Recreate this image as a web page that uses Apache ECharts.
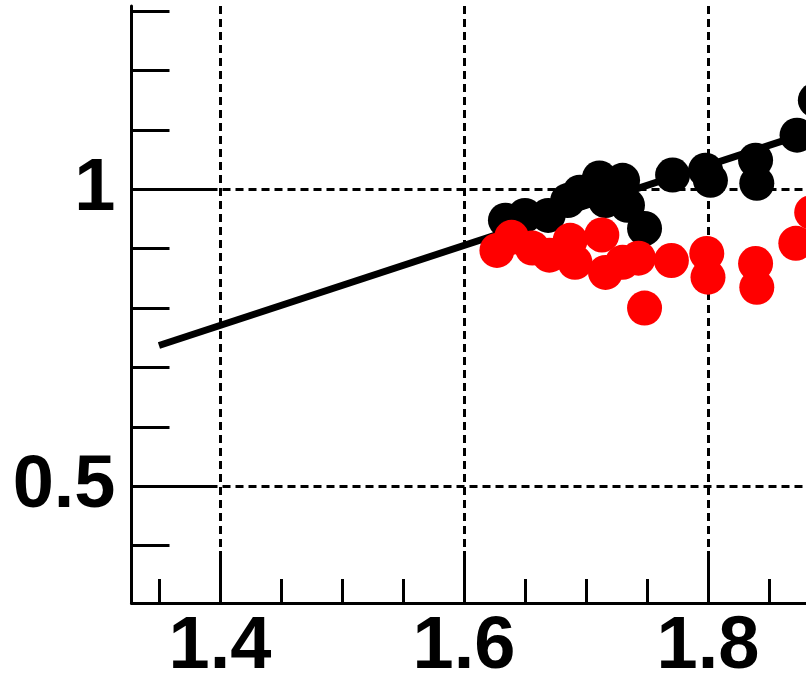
<!DOCTYPE html>
<html>
<head>
<meta charset="utf-8">
<script src="https://cdn.jsdelivr.net/npm/echarts@6/dist/echarts.min.js"></script>
<style>html,body{margin:0;padding:0;background:#fff;}#c{width:806px;height:683px;}</style>
</head>
<body>
<div id="c"></div>
<script>
// Data
var blackX = [1.634, 1.650, 1.669, 1.685, 1.695, 1.711, 1.716, 1.730, 1.734, 1.748, 1.771, 1.798, 1.802, 1.839, 1.840, 1.873, 1.888];
var blackY = [0.948, 0.956, 0.956, 0.981, 0.995, 1.019, 0.981, 1.015, 0.973, 0.934, 1.024, 1.032, 1.015, 1.049, 1.010, 1.091, 1.150];
var redX = [1.627, 1.639, 1.656, 1.670, 1.687, 1.691, 1.713, 1.716, 1.730, 1.743, 1.748, 1.770, 1.799, 1.800, 1.839, 1.840, 1.872, 1.885];
var redY = [0.897, 0.919, 0.901, 0.889, 0.914, 0.877, 0.923, 0.860, 0.877, 0.884, 0.800, 0.880, 0.892, 0.852, 0.875, 0.835, 0.909, 0.961];
var fitX = [1.35, 1.92];
var fitY = [0.737, 1.121];
var xMajorTicks = [1.4, 1.6, 1.8];
var xMinorTicks = [1.35, 1.45, 1.5, 1.55, 1.65, 1.7, 1.75, 1.85];
var yMajorTicks = [0.5, 1];
var yMinorTicks = [0.4, 0.6, 0.7, 0.8, 0.9, 1.1, 1.2, 1.3];

function zip(a, b) { return a.map(function (v, i) { return [v, b[i]]; }); }

var FONT = 'Liberation Sans';
var chart = echarts.init(document.getElementById('c'), null, {renderer: 'canvas'});
var xMin = 1.3275, xMax = 1.9, yMin = 0.3035, yMax = 1.3085;
chart.setOption({
  animation: false,
  backgroundColor: '#fff',
  grid: {left: 131.5, top: 6, width: 698.5, height: 597, containLabel: false, outerBoundsMode: 'none'},
  xAxis: [{
    type: 'value', min: xMin, max: xMax, position: 'bottom',
    axisLine: {show: true, onZero: false, lineStyle: {color: '#000', width: 3}},
    axisTick: {show: true, inside: true, length: 52, customValues: xMajorTicks, lineStyle: {color: '#000', width: 3}},
    axisLabel: {show: true, customValues: xMajorTicks, margin: 8, color: '#000', fontFamily: FONT, fontWeight: 'bold', fontSize: 74, formatter: function (v) { return v.toFixed(1); }},
    splitLine: {show: true, lineStyle: {color: '#000', width: 3, type: [8, 5]}}
  }, {
    type: 'value', min: xMin, max: xMax, position: 'bottom',
    axisLine: {show: false},
    axisTick: {show: true, inside: true, length: 24, customValues: xMinorTicks, lineStyle: {color: '#000', width: 3}},
    axisLabel: {show: false},
    splitLine: {show: false}
  }],
  yAxis: [{
    type: 'value', min: yMin, max: yMax, position: 'left',
    axisLine: {show: true, onZero: false, lineStyle: {color: '#000', width: 3}},
    axisTick: {show: true, inside: true, length: 80, customValues: yMajorTicks, lineStyle: {color: '#000', width: 3}},
    axisLabel: {show: true, customValues: yMajorTicks, margin: 16, color: '#000', fontFamily: FONT, fontWeight: 'bold', fontSize: 74, formatter: function (v) { return v === 1 ? '1' : String(v); }},
    splitLine: {show: true, lineStyle: {color: '#000', width: 3, type: [8, 5]}}
  }, {
    type: 'value', min: yMin, max: yMax, position: 'left',
    axisLine: {show: false},
    axisTick: {show: true, inside: true, length: 38, customValues: yMinorTicks, lineStyle: {color: '#000', width: 3}},
    axisLabel: {show: false},
    splitLine: {show: false}
  }],
  series: [{
    type: 'line', data: zip(fitX, fitY), showSymbol: false, symbol: 'none', z: 2,
    lineStyle: {color: '#000', width: 7}
  }, {
    type: 'scatter', data: zip(blackX, blackY), symbol: 'circle', symbolSize: 35, z: 3,
    itemStyle: {color: '#000', opacity: 1}
  }, {
    type: 'scatter', data: zip(redX, redY), symbol: 'circle', symbolSize: 35, z: 4,
    itemStyle: {color: '#ff0000', opacity: 1}
  }]
});
</script>
</body>
</html>
